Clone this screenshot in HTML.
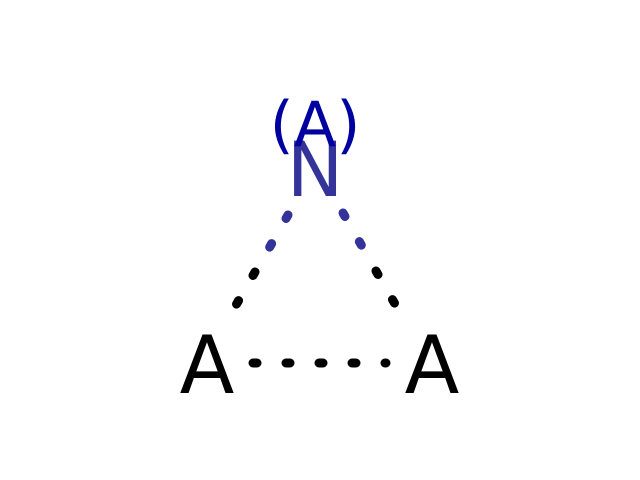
<!DOCTYPE html>
<html><head><meta charset="utf-8"><style>html,body{margin:0;padding:0;background:#fff}svg{display:block}</style></head>
<body>
<svg id="mol" width="640" height="480" viewBox="0 0 640 480" xmlns="http://www.w3.org/2000/svg">
<rect width="640" height="480" fill="#fff"/>
<g stroke-linecap="round" stroke-width="9" fill="none" stroke-dasharray="4 29">
<line x1="288" y1="215" x2="264" y2="257" stroke="#333399"/>
<line x1="255" y1="272" x2="236" y2="305" stroke="#000"/>
<line x1="343" y1="213" x2="367" y2="255" stroke="#333399"/>
<line x1="376" y1="271" x2="395" y2="304" stroke="#000"/>
<line x1="253" y1="363" x2="386" y2="363" stroke="#000"/>
</g>
<g font-family="DejaVu Sans, Liberation Sans, sans-serif" text-anchor="middle">
<text x="207" y="393" font-size="80" fill="#000">A</text>
<text x="432" y="393" font-size="80" fill="#000">A</text>
<text x="315" y="196" font-size="76" fill="#333399">N</text>
<text x="315" y="146" font-size="62" fill="#0000a0">(A)</text>
</g>
</svg>
</body></html>
